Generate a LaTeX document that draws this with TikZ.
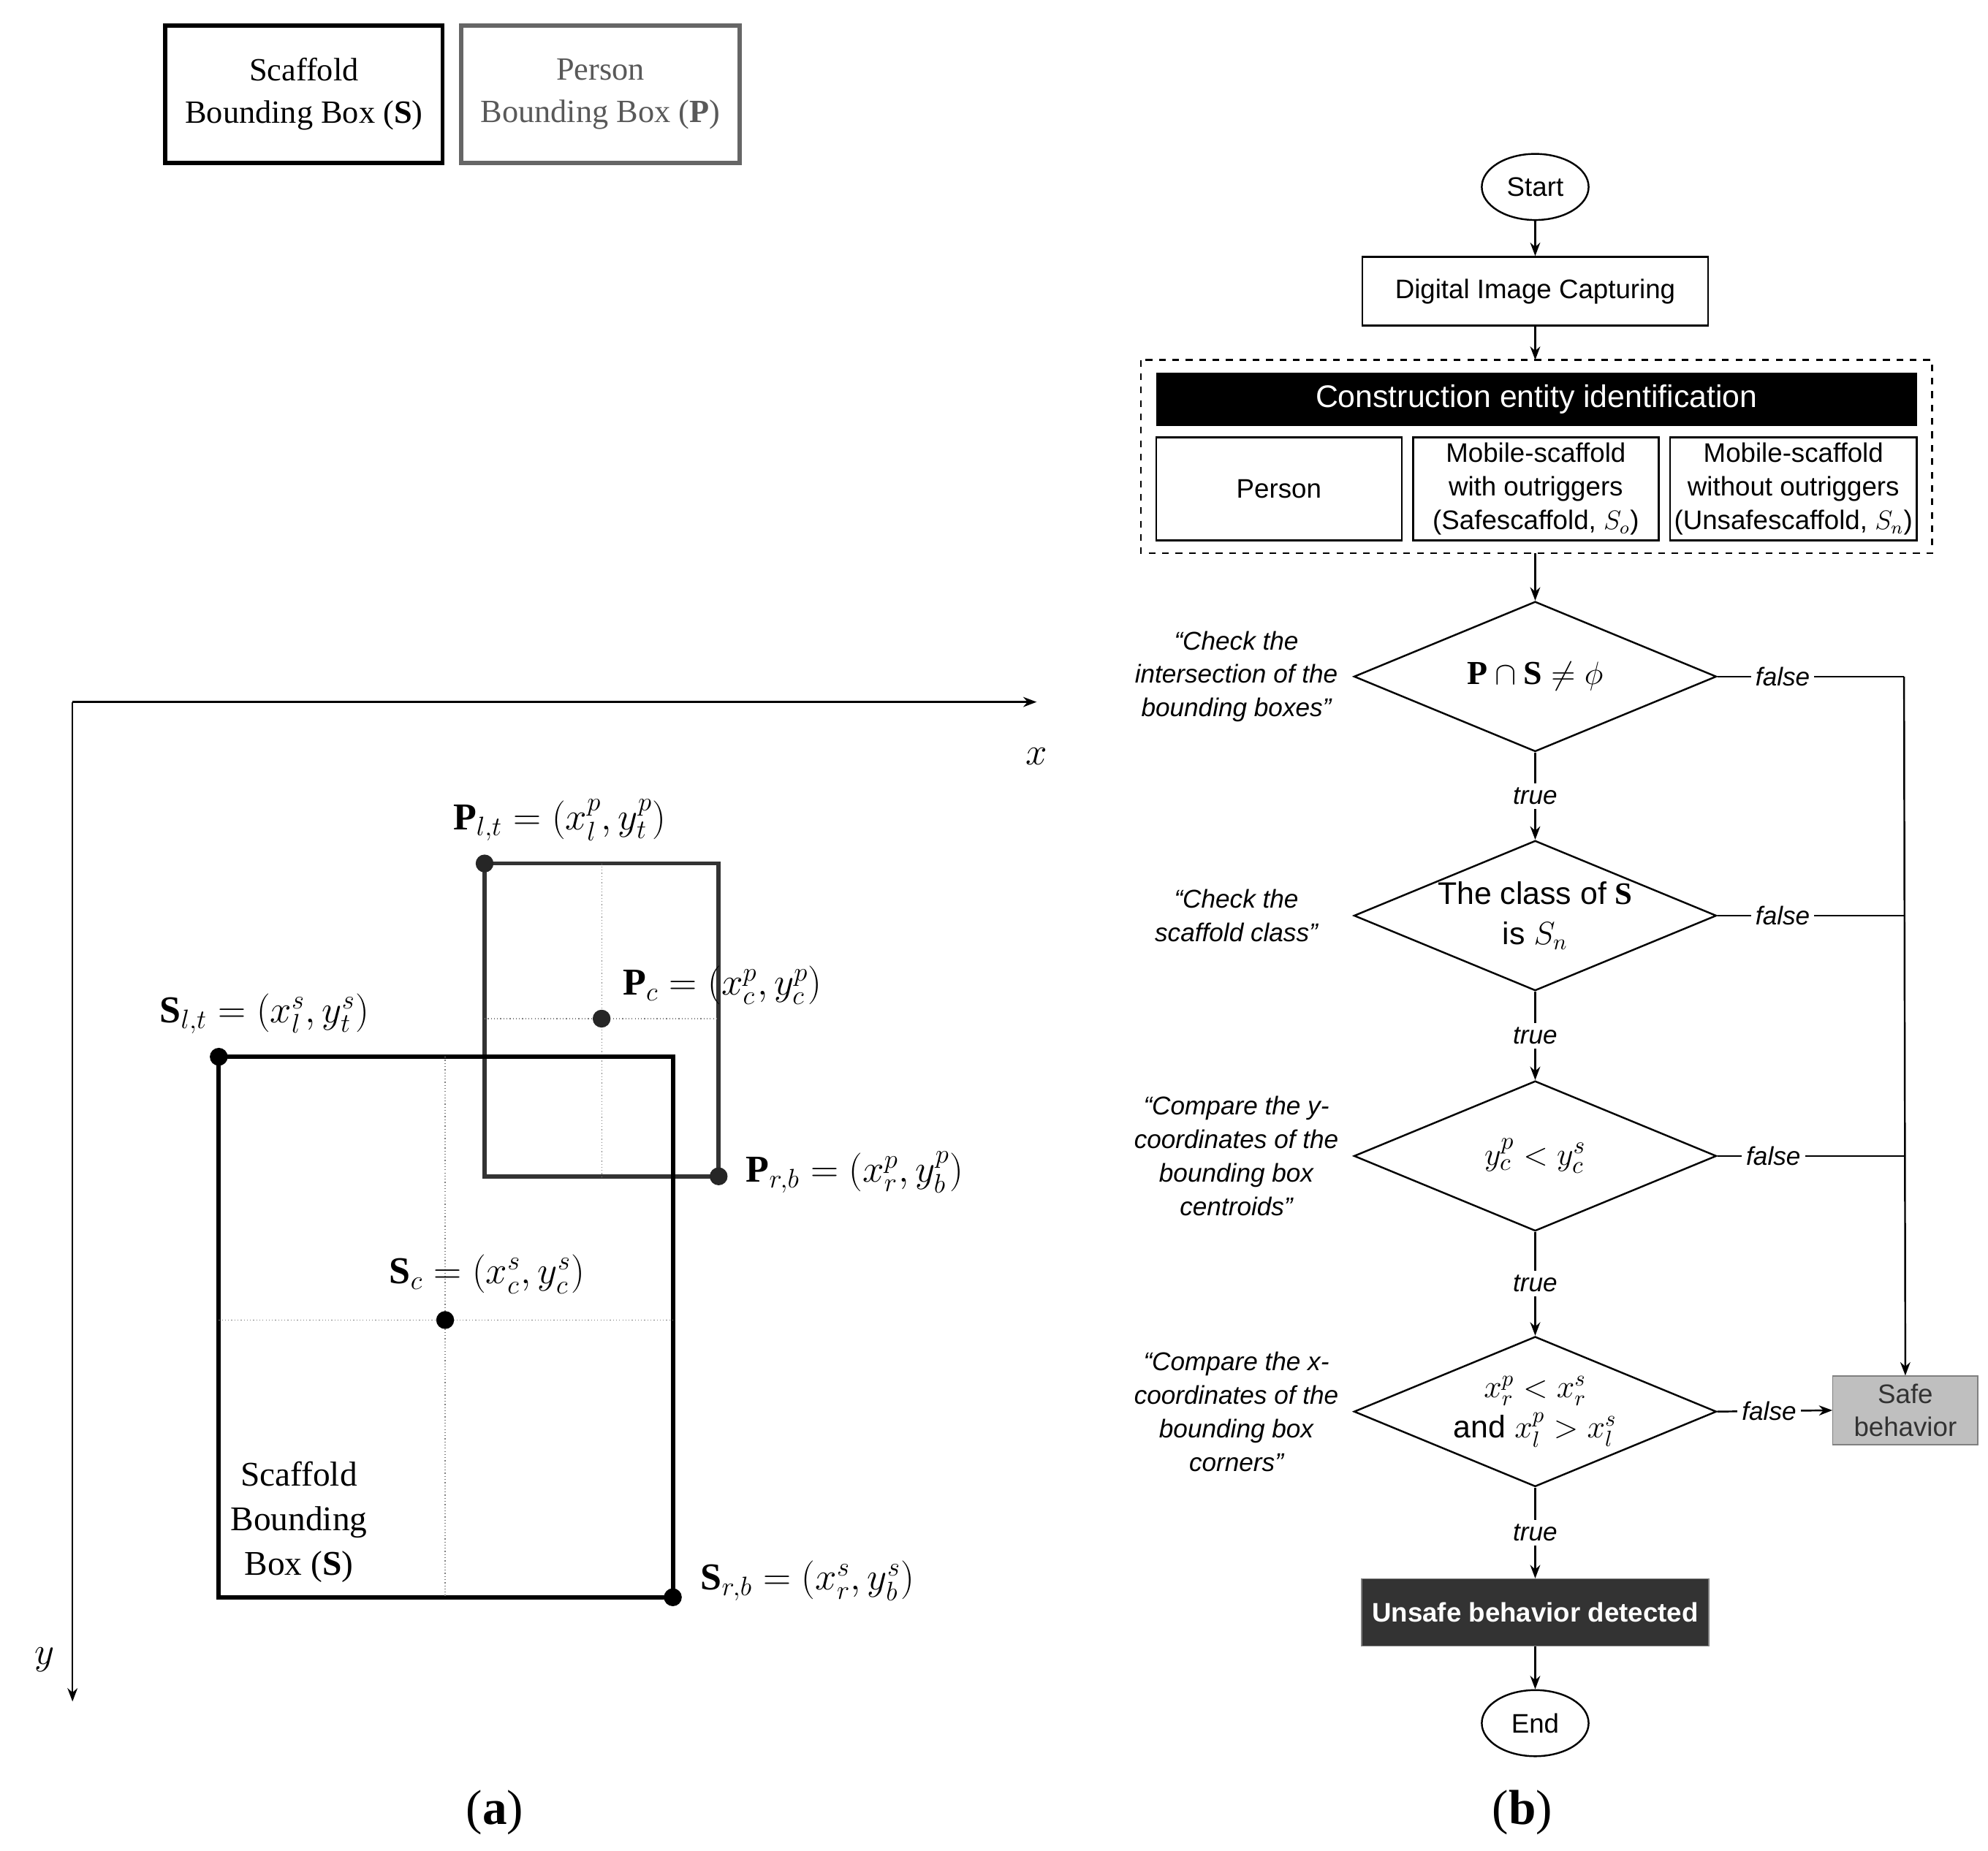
\documentclass[tikz,border=0pt]{standalone}
\usepackage{fontspec}
\usepackage{amsmath,amssymb}
\setmainfont{Liberation Serif}
\newfontfamily\mysans{Liberation Sans}
\usetikzlibrary{shapes.geometric,arrows.meta}
\begin{document}
\begin{tikzpicture}[x=0.02cm,y=-0.02cm,
 lab/.style={font=\fontsize{17}{20}\selectfont},
 leg/.style={font=\fontsize{14.5}{19}\selectfont,align=center,inner sep=0pt},
 fc/.style={font=\mysans\fontsize{12}{15}\selectfont,align=center},
 box/.style={draw,thick,minimum height=54*0.02cm,fc},
 dia/.style={draw,thick,diamond,aspect=2.4,minimum width=285*0.02cm,minimum height=118*0.02cm,inner sep=0pt,fc},
 cmt/.style={fc,font=\mysans\itshape\fontsize{11.5}{15}\selectfont},
 tf/.style={fc,font=\mysans\itshape\fontsize{11.5}{14}\selectfont,fill=white,inner sep=2pt},
 ar/.style={-{Stealth[length=6pt]},thick},
 dot/.style={circle,fill,inner sep=0pt,minimum size=8pt}]
\useasboundingbox (0,0) rectangle (1563,1455);
% legend
\node[draw,line width=1.8pt,minimum width=218*0.02cm,minimum height=108*0.02cm,leg] (ls) at (239,74) {Scaffold\\Bounding Box ($\mathbf{S}$)};
\node[draw,gray!80!black,line width=1.8pt,minimum width=219*0.02cm,minimum height=108*0.02cm,leg,text=gray!70!black] (lp) at (472,74) {Person\\Bounding Box ($\mathbf{P}$)};
% axes
\coordinate (o) at (57,552); \coordinate (xe) at (815,552); \coordinate (ye) at (57,1338);
\draw[ar] (o) -- (xe); \draw[ar] (o) -- (ye);
\node[lab] (xl) at (815,595) {$x$};
\node[lab] (yl) at (35,1305) {$y$};
% P box
\draw[gray!40!black,line width=1.8pt] (381,679) rectangle (565,925);
\draw[densely dotted,gray] (473,679) -- (473,925) (381,801) -- (565,801);
% S box
\draw[line width=2pt] (172,831) rectangle (529,1256);
\draw[densely dotted,gray] (350,831) -- (350,1256) (172,1038) -- (529,1038);
\node[dot,gray!30!black] (plt) at (381,679) {};
\node[dot,gray!30!black] (pc) at (473,801) {};
\node[dot,gray!30!black] (prb) at (565,925) {};
\node[dot] (slt) at (172,831) {};
\node[dot] (sc) at (350,1038) {};
\node[dot] (srb) at (529,1256) {};
\node[lab] (lplt) at (440,645) {$\mathbf{P}_{l,t}=(x_l^p,y_t^p)$};
\node[lab] (lpc) at (568,775) {$\mathbf{P}_{c}=(x_c^p,y_c^p)$};
\node[lab] (lslt) at (208,797) {$\mathbf{S}_{l,t}=(x_l^s,y_t^s)$};
\node[lab] (lprb) at (672,922) {$\mathbf{P}_{r,b}=(x_r^p,y_b^p)$};
\node[lab] (lsc) at (383,1002) {$\mathbf{S}_{c}=(x_c^s,y_c^s)$};
\node[lab] (lsrb) at (635,1243) {$\mathbf{S}_{r,b}=(x_r^s,y_b^s)$};
\node[leg,font=\fontsize{15.5}{20}\selectfont] (sbb) at (235,1197) {Scaffold\\Bounding\\Box ($\mathbf{S}$)};
\node[font=\fontsize{22}{26}\selectfont] (ca) at (389,1425) {(\textbf{a})};
\node[font=\fontsize{22}{26}\selectfont] (cb) at (1197,1425) {(\textbf{b})};
% flowchart
\node[draw,thick,ellipse,minimum width=84*0.02cm,minimum height=52*0.02cm,fc] (start) at (1207,147) {Start};
\node[box,minimum width=272*0.02cm] (dig) at (1207,229) {Digital Image Capturing};
\draw[dashed,thick] (897,283) rectangle (1519,435);
\coordinate (dt) at (1207,283); \coordinate (db) at (1207,435);
\node[fill=black,text=white,minimum width=598*0.02cm,minimum height=42*0.02cm,fc,font=\mysans\fontsize{14}{16}\selectfont] (hdr) at (1208,314) {Construction entity identification};
\node[draw,thick,minimum width=193*0.02cm,minimum height=81*0.02cm,fc] (per) at (1005.5,384.5) {Person};
\node[draw,thick,minimum width=193*0.02cm,minimum height=81*0.02cm,fc,inner sep=1pt] (mso) at (1207.5,384.5) {Mobile-scaffold\\with outriggers\\(Safescaffold, $S_o$)};
\node[draw,thick,minimum width=194*0.02cm,minimum height=81*0.02cm,fc,inner sep=1pt] (msn) at (1410,384.5) {Mobile-scaffold\\without outriggers\\(Unsafescaffold, $S_n$)};
\node[dia,font=\mysans\fontsize{15}{18}\selectfont] (d1) at (1207,532) {$\mathbf{P}\cap\mathbf{S}\neq\phi$};
\node[dia,font=\mysans\fontsize{14}{18}\selectfont] (d2) at (1207,720) {The class of $\mathbf{S}$\\is $S_n$};
\node[dia,font=\mysans\fontsize{15}{18}\selectfont] (d3) at (1207,909) {$y_c^p < y_c^s$};
\node[dia,font=\mysans\fontsize{14}{18}\selectfont] (d4) at (1207,1110) {$x_r^p < x_r^s$\\and $x_l^p > x_l^s$};
\node[draw=gray,fill=gray!50,minimum width=114*0.02cm,minimum height=54*0.02cm,fc,text=black!80] (safe) at (1498,1109) {Safe\\behavior};
\node[draw=gray,fill=black!80,text=white,minimum width=273*0.02cm,minimum height=53*0.02cm,fc,font=\mysans\bfseries\fontsize{12}{15}\selectfont] (uns) at (1207,1268) {Unsafe behavior detected};
\node[draw,thick,ellipse,minimum width=84*0.02cm,minimum height=52*0.02cm,fc] (end) at (1207,1355) {End};
\draw[ar] (start) -- (dig);
\draw[ar] (dig) -- (dt);
\draw[ar] (db) -- (d1);
\draw[ar] (d1) -- node[tf]{true} (d2);
\draw[ar] (d2) -- node[tf]{true} (d3);
\draw[ar] (d3) -- node[tf]{true} (d4);
\draw[ar] (d4) -- node[tf]{true} (uns);
\draw[ar] (uns) -- (end);
\coordinate (j1) at (1497,532); \coordinate (j2) at (1497,720); \coordinate (j3) at (1497,909);
\draw[thick] (d1.east) -- node[tf,pos=0.35]{false} (j1);
\draw[thick] (d2.east) -- node[tf,pos=0.35]{false} (j2);
\draw[thick] (d3.east) -- node[tf,pos=0.3]{false} (j3);
\draw[ar] (j1) -- (safe.north);
\draw[ar] (d4.east) -- node[tf,pos=0.45]{false} (safe.west);
\node[cmt] (c1) at (972,532) {“Check the\\intersection of the\\bounding boxes”};
\node[cmt] (c2) at (972,720) {“Check the\\scaffold class”};
\node[cmt] (c3) at (972,909) {“Compare the y-\\coordinates of the\\bounding box\\centroids”};
\node[cmt] (c4) at (972,1110) {“Compare the x-\\coordinates of the\\bounding box\\corners”};
\end{tikzpicture}
\end{document}
